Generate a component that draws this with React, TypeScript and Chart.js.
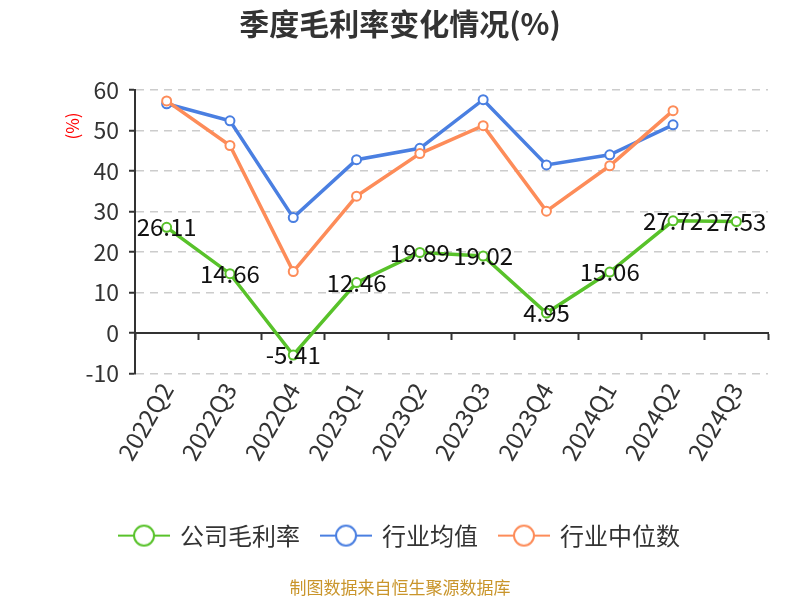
import React, { useEffect, useRef } from "react";
import { Chart, registerables } from "chart.js";

Chart.register(...registerables);

const categories = ["2022Q2", "2022Q3", "2022Q4", "2023Q1", "2023Q2", "2023Q3", "2023Q4", "2024Q1", "2024Q2", "2024Q3"];
const companyMargin = [26.11, 14.66, -5.41, 12.46, 19.89, 19.02, 4.95, 15.06, 27.72, 27.53];
const industryAvg: (number | null)[] = [56.6, 52.4, 28.5, 42.8, 45.6, 57.6, 41.5, 44.0, 51.4, null];
const industryMedian: (number | null)[] = [57.3, 46.3, 15.2, 33.8, 44.3, 51.2, 30.1, 41.3, 54.9, null];
const seriesNames = ["公司毛利率", "行业均值", "行业中位数"];
const seriesColors = ["#58c22a", "#4a7fe1", "#fd8c59"];
const yMin = -10;
const yMax = 60;
const yStep = 10;
const titleText = "季度毛利率变化情况(%)";
const unitText = "(%)";
const sourceText = "制图数据来自恒生聚源数据库";

const FONT = "'Noto Sans CJK SC', 'Noto Sans', sans-serif";

function makeLegendIcon(color: string): HTMLCanvasElement {
  const c = document.createElement("canvas");
  c.width = 52;
  c.height = 26;
  const ctx = c.getContext("2d")!;
  ctx.strokeStyle = color;
  ctx.lineWidth = 2;
  ctx.beginPath();
  ctx.moveTo(0, 13);
  ctx.lineTo(52, 13);
  ctx.stroke();
  ctx.beginPath();
  ctx.arc(26, 13, 10, 0, Math.PI * 2);
  ctx.fillStyle = "#fff";
  ctx.fill();
  ctx.stroke();
  return c;
}

const valueLabelPlugin = {
  id: "valueLabels",
  afterDatasetsDraw(chart: any) {
    const meta = chart.getDatasetMeta(0);
    const ctx = chart.ctx;
    ctx.save();
    ctx.font = `24px ${FONT}`;
    ctx.fillStyle = "#111";
    ctx.textAlign = "center";
    ctx.textBaseline = "middle";
    meta.data.forEach((pt: any, i: number) => {
      const v = companyMargin[i];
      if (v == null) return;
      ctx.fillText(String(v), pt.x, pt.y);
    });
    ctx.restore();
  },
};

const unitLabelPlugin = {
  id: "unitLabel",
  afterDraw(chart: any) {
    const ctx = chart.ctx;
    const area = chart.chartArea;
    ctx.save();
    ctx.font = `17px ${FONT}`;
    ctx.fillStyle = "#ff0000";
    ctx.textAlign = "center";
    ctx.textBaseline = "middle";
    ctx.translate(area.left - 62, area.top + 36);
    ctx.rotate(-Math.PI / 2);
    ctx.fillText(unitText, 0, 0);
    ctx.restore();
  },
};

export default function App() {
  const ref = useRef<HTMLCanvasElement | null>(null);

  useEffect(() => {
    if (!ref.current) return;
    const icons = seriesColors.map(makeLegendIcon);
    const mk = (label: string, data: (number | null)[], color: string, order: number) => ({
      label,
      data,
      borderColor: color,
      backgroundColor: "#fff",
      borderWidth: 3.5,
      pointRadius: 4.5,
      pointBorderWidth: 2,
      pointBackgroundColor: "#fff",
      pointBorderColor: color,
      tension: 0,
      spanGaps: false,
      order,
      yAxisID: "y",
      xAxisID: "x",
    });
    const chart = new Chart(ref.current, {
      type: "line",
      data: {
        labels: categories,
        datasets: [
          mk(seriesNames[0], companyMargin, seriesColors[0], 0),
          mk(seriesNames[1], industryAvg, seriesColors[1], 2),
          mk(seriesNames[2], industryMedian, seriesColors[2], 1),
        ],
      },
      options: {
        responsive: false,
        animation: false,
        layout: { padding: { left: 0, right: 0, top: 0, bottom: 0 } },
        scales: {
          x: {
            type: "category",
            offset: true,
            position: "bottom",
            grid: { display: false, drawTicks: false },
            border: { display: false },
            ticks: {
              color: "#333",
              font: { family: FONT, size: 24 },
              maxRotation: 60,
              minRotation: 60,
              padding: 4,
              autoSkip: false,
            },
            afterFit(scale: any) {
              scale.height = 128;
            },
          },
          xZero: {
            type: "category",
            labels: categories,
            offset: true,
            position: { y: 0 } as any,
            grid: {
              display: true,
              drawOnChartArea: false,
              drawTicks: true,
              tickLength: 6,
              tickColor: "#333",
              tickWidth: 2,
              offset: true,
            },
            border: { display: true, color: "#333", width: 2 },
            ticks: { display: false },
          },
          y: {
            min: yMin,
            max: yMax,
            position: "left",
            grid: {
              color: "#cccccc",
              lineWidth: 1.5,
              drawTicks: true,
              tickLength: 6,
              tickColor: "#333",
              tickWidth: 2,
              tickBorderDash: [],
            },
            border: { display: true, color: "#333", width: 2, dash: [8, 6] },
            ticks: {
              stepSize: yStep,
              color: "#333",
              font: { family: FONT, size: 23 },
              padding: 10,
            },
            afterFit(scale: any) {
              scale.width = 135;
            },
          },
          yPad: {
            type: "linear",
            position: "right",
            display: true,
            grid: { display: false, drawTicks: false },
            border: { display: false },
            ticks: { display: false },
            afterFit(scale: any) {
              scale.width = 32;
            },
          },
        },
        plugins: {
          title: {
            display: true,
            text: titleText,
            color: "#333",
            font: { family: FONT, size: 30, weight: "bold" },
            padding: { top: 6, bottom: 48 },
          },
          subtitle: {
            display: true,
            position: "bottom",
            text: sourceText,
            color: "#c9952b",
            font: { family: FONT, size: 17 },
            padding: { top: 20, bottom: 2 },
          },
          legend: {
            display: true,
            position: "bottom",
            labels: {
              usePointStyle: true,
              pointStyleWidth: 48,
              padding: 22,
              color: "#333",
              font: { family: FONT, size: 24 },
              generateLabels: () =>
                seriesNames.map((name, i) => ({
                  text: name,
                  datasetIndex: i,
                  pointStyle: icons[i] as any,
                  fillStyle: "#fff",
                  strokeStyle: seriesColors[i],
                  lineWidth: 0,
                  hidden: false,
                  fontColor: "#333",
                })),
            },
          },
          tooltip: { enabled: false },
        },
      },
      plugins: [valueLabelPlugin, unitLabelPlugin],
    });
    return () => chart.destroy();
  }, []);

  return (
    <div style={{ position: "absolute", left: 0, top: 0, width: 800, height: 600, background: "#fff" }}>
      <canvas ref={ref} width={800} height={600} style={{ display: "block" }} />
    </div>
  );
}
